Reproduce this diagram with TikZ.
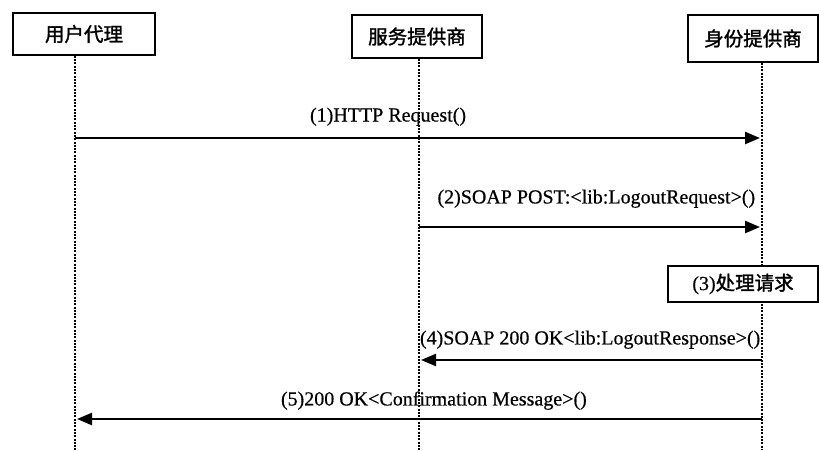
\documentclass[tikz,border=0pt]{standalone}
\usepackage{fontspec}
\setmainfont[FakeBold=0.5]{Liberation Serif}
\newfontfamily\cjk[FakeBold=1.5]{Noto Sans CJK SC}
\usetikzlibrary{arrows.meta}
\begin{document}
\begin{tikzpicture}[x=1pt,y=-1pt,
  actor/.style={draw,line width=1.5pt,fill=white,inner sep=0pt,font=\cjk\fontsize{19.5}{21}\selectfont},
  lifeline/.style={line width=2.8pt,dash pattern=on 2pt off 1.3pt},
  msg/.style={line width=2.4pt,-{Triangle[length=15pt,width=12pt]}},
  lbl/.style={font=\rmfamily\fontsize{20}{22}\selectfont,inner sep=0pt}]
\useasboundingbox (0,0) rectangle (819,450);
% actors
\node[actor,minimum width=142pt,minimum height=42pt] (ua) at (84,34) {用户代理};
\node[actor,minimum width=130pt,minimum height=43pt] (sp) at (417,36.5) {服务提供商};
\node[actor,minimum width=130pt,minimum height=47pt] (idp) at (753,38.5) {身份提供商};
% lifeline ends
\coordinate (uaE) at (75,450);
\coordinate (spE) at (419,450);
\coordinate (idpE) at (762,450);
\draw[lifeline] (ua.south -| uaE) -- (uaE);
\draw[lifeline] (sp.south -| spE) -- (spE);
\draw[lifeline] (idp.south -| idpE) -- (idpE);
% step 3 box
\node[actor,minimum width=150pt,minimum height=36pt] (p3) at (743,284) {{\rmfamily\fontsize{20}{22}\selectfont(3)}处理请求};
% message anchors
\coordinate (m1a) at (75,138); \coordinate (m1b) at (760,138);
\coordinate (m2a) at (419,227); \coordinate (m2b) at (760,227);
\coordinate (m4a) at (762,360); \coordinate (m4b) at (421,360);
\coordinate (m5a) at (762,419); \coordinate (m5b) at (77,419);
\draw[msg] (m1a) -- (m1b) node[lbl,pos=0.457,above=11pt] (l1) {(1)HTTP Request()};
\draw[msg] (m2a) -- (m2b) node[lbl,pos=0.52,above=18pt] (l2) {(2)SOAP POST:<lib:LogoutRequest>()};
\draw[msg] (m4a) -- (m4b) node[lbl,pos=0.504,above=10pt] (l4) {(4)SOAP 200 OK<lib:LogoutResponse>()};
\draw[msg] (m5a) -- (m5b) node[lbl,pos=0.479,above=8pt] (l5) {(5)200 OK<Confirmation Message>()};
\end{tikzpicture}
\end{document}
